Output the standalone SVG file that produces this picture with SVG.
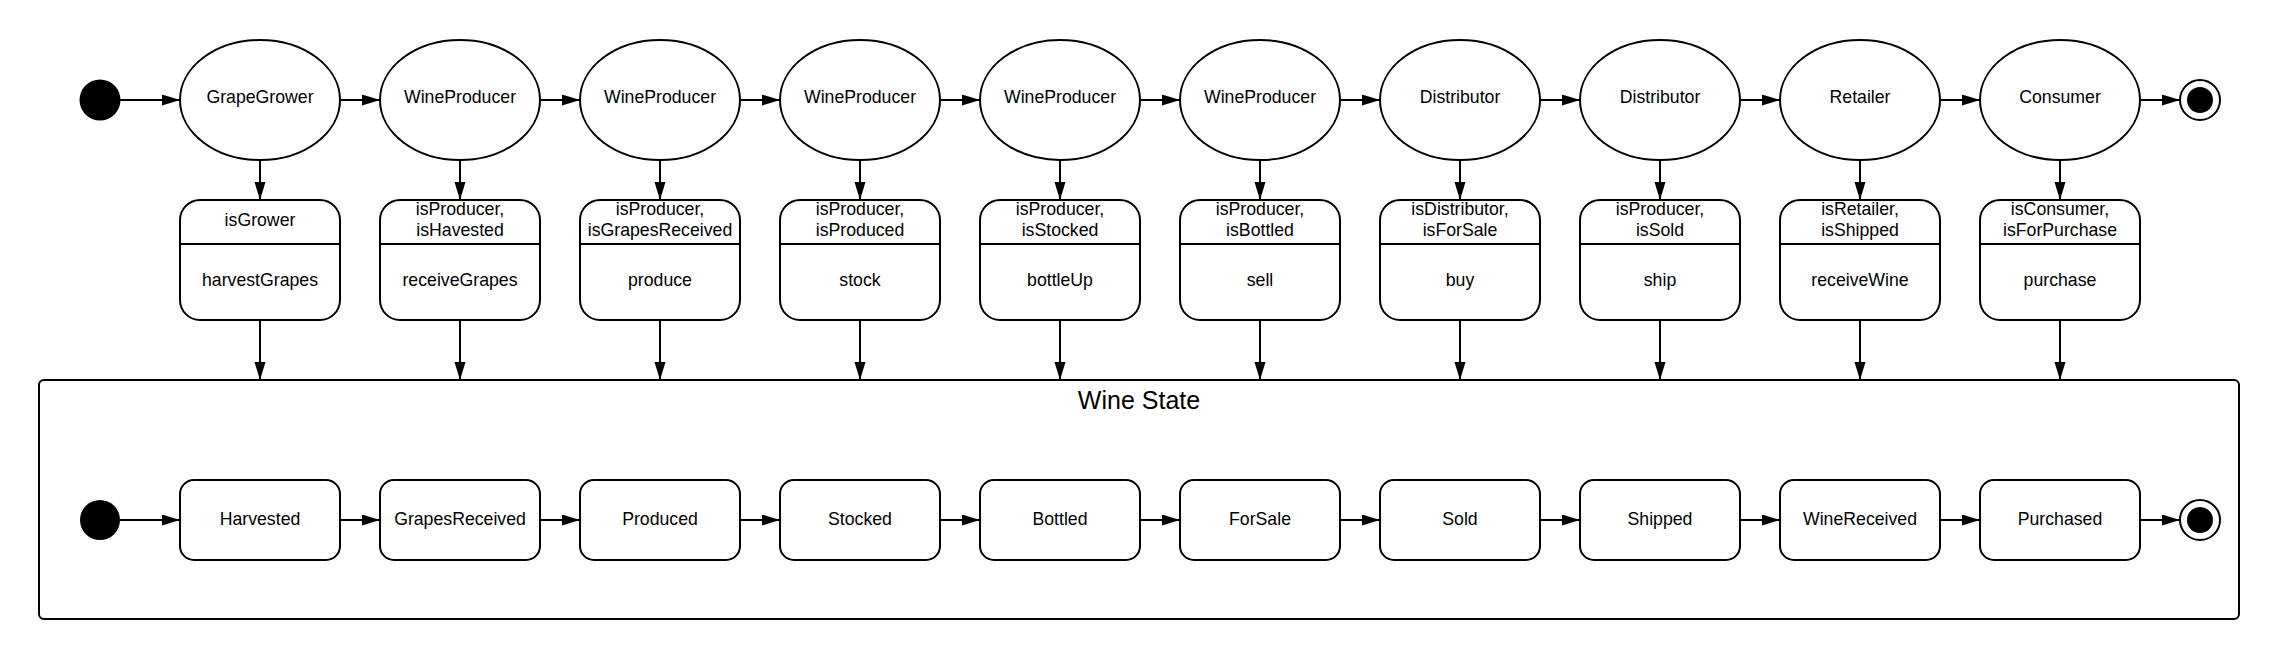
<svg xmlns="http://www.w3.org/2000/svg" width="2280" height="660" viewBox="0 0 2280 660">
<defs>
<marker id="arr" markerUnits="userSpaceOnUse" markerWidth="18" markerHeight="12" refX="18" refY="5.5" orient="auto">
<path d="M0,0 L18,5.5 L0,11 z" fill="#000"/>
</marker>
<style>
.s{fill:#fff;stroke:#000;stroke-width:2}
.l{stroke:#000;stroke-width:2;fill:none;marker-end:url(#arr)}
.t{font-family:"Liberation Sans",Arial,sans-serif;font-size:17.7px;fill:#000;text-anchor:middle}
.big{font-family:"Liberation Sans",Arial,sans-serif;font-size:25px;fill:#000;text-anchor:middle}
.dot{fill:#000}
</style>
</defs>
<rect width="2280" height="660" fill="#fff"/>

<g id="container">
<rect class="s" x="39" y="380" width="2200" height="239" rx="5"/>
<text class="big" x="1139" y="409">Wine State</text>
</g>

<g id="start"><circle class="dot" cx="100" cy="100" r="20.5"/></g>
<g id="end"><circle class="s" cx="2200" cy="100" r="20"/><circle class="dot" cx="2200" cy="100" r="13"/></g>

<g id="e1"><ellipse class="s" cx="260" cy="100" rx="80" ry="60"/><text class="t" x="260" y="103">GrapeGrower</text></g>
<g id="e2"><ellipse class="s" cx="460" cy="100" rx="80" ry="60"/><text class="t" x="460" y="103">WineProducer</text></g>
<g id="e3"><ellipse class="s" cx="660" cy="100" rx="80" ry="60"/><text class="t" x="660" y="103">WineProducer</text></g>
<g id="e4"><ellipse class="s" cx="860" cy="100" rx="80" ry="60"/><text class="t" x="860" y="103">WineProducer</text></g>
<g id="e5"><ellipse class="s" cx="1060" cy="100" rx="80" ry="60"/><text class="t" x="1060" y="103">WineProducer</text></g>
<g id="e6"><ellipse class="s" cx="1260" cy="100" rx="80" ry="60"/><text class="t" x="1260" y="103">WineProducer</text></g>
<g id="e7"><ellipse class="s" cx="1460" cy="100" rx="80" ry="60"/><text class="t" x="1460" y="103">Distributor</text></g>
<g id="e8"><ellipse class="s" cx="1660" cy="100" rx="80" ry="60"/><text class="t" x="1660" y="103">Distributor</text></g>
<g id="e9"><ellipse class="s" cx="1860" cy="100" rx="80" ry="60"/><text class="t" x="1860" y="103">Retailer</text></g>
<g id="e10"><ellipse class="s" cx="2060" cy="100" rx="80" ry="60"/><text class="t" x="2060" y="103">Consumer</text></g>

<g id="b1"><rect class="s" x="180" y="200" width="160" height="120" rx="20"/><line x1="180" y1="244" x2="340" y2="244" stroke="#000" stroke-width="2"/><text class="t" x="260" y="225.5">isGrower</text><text class="t" x="260" y="285.5">harvestGrapes</text></g>
<g id="b2"><rect class="s" x="380" y="200" width="160" height="120" rx="20"/><line x1="380" y1="244" x2="540" y2="244" stroke="#000" stroke-width="2"/><text class="t" x="460" y="214.5">isProducer,</text><text class="t" x="460" y="235.5">isHavested</text><text class="t" x="460" y="285.5">receiveGrapes</text></g>
<g id="b3"><rect class="s" x="580" y="200" width="160" height="120" rx="20"/><line x1="580" y1="244" x2="740" y2="244" stroke="#000" stroke-width="2"/><text class="t" x="660" y="214.5">isProducer,</text><text class="t" x="660" y="235.5">isGrapesReceived</text><text class="t" x="660" y="285.5">produce</text></g>
<g id="b4"><rect class="s" x="780" y="200" width="160" height="120" rx="20"/><line x1="780" y1="244" x2="940" y2="244" stroke="#000" stroke-width="2"/><text class="t" x="860" y="214.5">isProducer,</text><text class="t" x="860" y="235.5">isProduced</text><text class="t" x="860" y="285.5">stock</text></g>
<g id="b5"><rect class="s" x="980" y="200" width="160" height="120" rx="20"/><line x1="980" y1="244" x2="1140" y2="244" stroke="#000" stroke-width="2"/><text class="t" x="1060" y="214.5">isProducer,</text><text class="t" x="1060" y="235.5">isStocked</text><text class="t" x="1060" y="285.5">bottleUp</text></g>
<g id="b6"><rect class="s" x="1180" y="200" width="160" height="120" rx="20"/><line x1="1180" y1="244" x2="1340" y2="244" stroke="#000" stroke-width="2"/><text class="t" x="1260" y="214.5">isProducer,</text><text class="t" x="1260" y="235.5">isBottled</text><text class="t" x="1260" y="285.5">sell</text></g>
<g id="b7"><rect class="s" x="1380" y="200" width="160" height="120" rx="20"/><line x1="1380" y1="244" x2="1540" y2="244" stroke="#000" stroke-width="2"/><text class="t" x="1460" y="214.5">isDistributor,</text><text class="t" x="1460" y="235.5">isForSale</text><text class="t" x="1460" y="285.5">buy</text></g>
<g id="b8"><rect class="s" x="1580" y="200" width="160" height="120" rx="20"/><line x1="1580" y1="244" x2="1740" y2="244" stroke="#000" stroke-width="2"/><text class="t" x="1660" y="214.5">isProducer,</text><text class="t" x="1660" y="235.5">isSold</text><text class="t" x="1660" y="285.5">ship</text></g>
<g id="b9"><rect class="s" x="1780" y="200" width="160" height="120" rx="20"/><line x1="1780" y1="244" x2="1940" y2="244" stroke="#000" stroke-width="2"/><text class="t" x="1860" y="214.5">isRetailer,</text><text class="t" x="1860" y="235.5">isShipped</text><text class="t" x="1860" y="285.5">receiveWine</text></g>
<g id="b10"><rect class="s" x="1980" y="200" width="160" height="120" rx="20"/><line x1="1980" y1="244" x2="2140" y2="244" stroke="#000" stroke-width="2"/><text class="t" x="2060" y="214.5">isConsumer,</text><text class="t" x="2060" y="235.5">isForPurchase</text><text class="t" x="2060" y="285.5">purchase</text></g>

<g id="istart"><circle class="dot" cx="100" cy="520" r="20"/></g>
<g id="iend"><circle class="s" cx="2200" cy="520" r="20"/><circle class="dot" cx="2200" cy="520" r="13"/></g>

<g id="s1"><rect class="s" x="180" y="480" width="160" height="80" rx="14"/><text class="t" x="260" y="524.5">Harvested</text></g>
<g id="s2"><rect class="s" x="380" y="480" width="160" height="80" rx="14"/><text class="t" x="460" y="524.5">GrapesReceived</text></g>
<g id="s3"><rect class="s" x="580" y="480" width="160" height="80" rx="14"/><text class="t" x="660" y="524.5">Produced</text></g>
<g id="s4"><rect class="s" x="780" y="480" width="160" height="80" rx="14"/><text class="t" x="860" y="524.5">Stocked</text></g>
<g id="s5"><rect class="s" x="980" y="480" width="160" height="80" rx="14"/><text class="t" x="1060" y="524.5">Bottled</text></g>
<g id="s6"><rect class="s" x="1180" y="480" width="160" height="80" rx="14"/><text class="t" x="1260" y="524.5">ForSale</text></g>
<g id="s7"><rect class="s" x="1380" y="480" width="160" height="80" rx="14"/><text class="t" x="1460" y="524.5">Sold</text></g>
<g id="s8"><rect class="s" x="1580" y="480" width="160" height="80" rx="14"/><text class="t" x="1660" y="524.5">Shipped</text></g>
<g id="s9"><rect class="s" x="1780" y="480" width="160" height="80" rx="14"/><text class="t" x="1860" y="524.5">WineReceived</text></g>
<g id="s10"><rect class="s" x="1980" y="480" width="160" height="80" rx="14"/><text class="t" x="2060" y="524.5">Purchased</text></g>

<g id="connectors">
<path class="l" d="M120,100 H180"/>
<path class="l" d="M340,100 H380"/>
<path class="l" d="M540,100 H580"/>
<path class="l" d="M740,100 H780"/>
<path class="l" d="M940,100 H980"/>
<path class="l" d="M1140,100 H1180"/>
<path class="l" d="M1340,100 H1380"/>
<path class="l" d="M1540,100 H1580"/>
<path class="l" d="M1740,100 H1780"/>
<path class="l" d="M1940,100 H1980"/>
<path class="l" d="M2140,100 H2180"/>

<path class="l" d="M260,160 V200"/>
<path class="l" d="M460,160 V200"/>
<path class="l" d="M660,160 V200"/>
<path class="l" d="M860,160 V200"/>
<path class="l" d="M1060,160 V200"/>
<path class="l" d="M1260,160 V200"/>
<path class="l" d="M1460,160 V200"/>
<path class="l" d="M1660,160 V200"/>
<path class="l" d="M1860,160 V200"/>
<path class="l" d="M2060,160 V200"/>

<path class="l" d="M260,320 V380"/>
<path class="l" d="M460,320 V380"/>
<path class="l" d="M660,320 V380"/>
<path class="l" d="M860,320 V380"/>
<path class="l" d="M1060,320 V380"/>
<path class="l" d="M1260,320 V380"/>
<path class="l" d="M1460,320 V380"/>
<path class="l" d="M1660,320 V380"/>
<path class="l" d="M1860,320 V380"/>
<path class="l" d="M2060,320 V380"/>

<path class="l" d="M120,520 H180"/>
<path class="l" d="M340,520 H380"/>
<path class="l" d="M540,520 H580"/>
<path class="l" d="M740,520 H780"/>
<path class="l" d="M940,520 H980"/>
<path class="l" d="M1140,520 H1180"/>
<path class="l" d="M1340,520 H1380"/>
<path class="l" d="M1540,520 H1580"/>
<path class="l" d="M1740,520 H1780"/>
<path class="l" d="M1940,520 H1980"/>
<path class="l" d="M2140,520 H2180"/>
</g>
</svg>
